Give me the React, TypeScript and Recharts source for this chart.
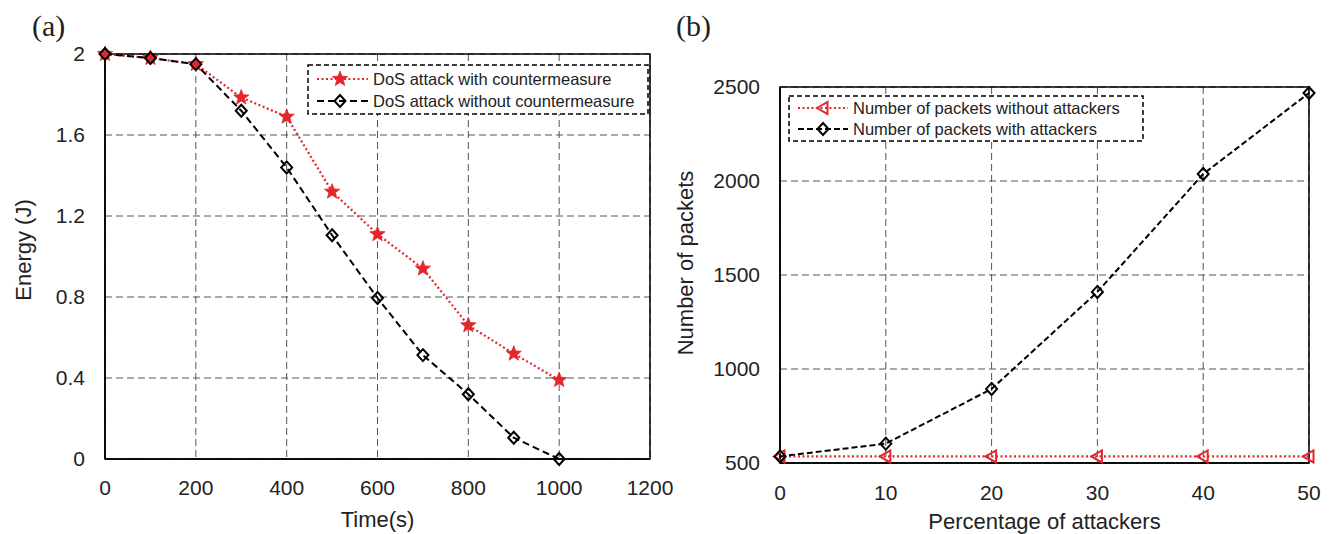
import React from 'react';
import { LineChart, Line, XAxis, YAxis, CartesianGrid, ReferenceArea, Legend } from 'recharts';

// ---------- Chart (a) data ----------
const timeSeconds = [0, 100, 200, 300, 400, 500, 600, 700, 800, 900, 1000];
const energyWithCountermeasure = [2.0, 1.98, 1.95, 1.785, 1.69, 1.32, 1.11, 0.94, 0.66, 0.52, 0.39];
const energyWithoutCountermeasure = [2.0, 1.98, 1.95, 1.72, 1.44, 1.105, 0.795, 0.513, 0.32, 0.105, 0.0];
const timeTicks = [0, 200, 400, 600, 800, 1000, 1200];
const energyTicks = [0, 0.4, 0.8, 1.2, 1.6, 2];
const seriesA1 = 'DoS attack with countermeasure';
const seriesA2 = 'DoS attack without countermeasure';

// ---------- Chart (b) data ----------
const attackerPercent = [0, 10, 20, 30, 40, 50];
const packetsWithoutAttackers = [535, 535, 535, 535, 535, 535];
const packetsWithAttackers = [535, 603, 894, 1410, 2037, 2468];
const percentTicks = [0, 10, 20, 30, 40, 50];
const packetTicks = [500, 1000, 1500, 2000, 2500];
const seriesB1 = 'Number of packets without attackers';
const seriesB2 = 'Number of packets with attackers';

const dataA = timeSeconds.map((t, i) => ({
  t,
  withC: energyWithCountermeasure[i],
  withoutC: energyWithoutCountermeasure[i],
}));
const dataB = attackerPercent.map((p, i) => ({
  p,
  without: packetsWithoutAttackers[i],
  withA: packetsWithAttackers[i],
}));

const RED = '#e3262b';
const TXT = '#222';
const GRID = '#555';

const starPoints = (cx: number, cy: number, ro: number, ri: number) => {
  const pts: string[] = [];
  for (let i = 0; i < 10; i++) {
    const r = i % 2 === 0 ? ro : ri;
    const a = -Math.PI / 2 + (i * Math.PI) / 5;
    pts.push(`${cx + r * Math.cos(a)},${cy + r * Math.sin(a)}`);
  }
  return pts.join(' ');
};

const StarMark = ({ cx, cy }: { cx: number; cy: number }) => (
  <polygon points={starPoints(cx, cy, 8, 3.4)} fill={RED} stroke={RED} strokeWidth={0.8} />
);
const DiamondMark = ({ cx, cy }: { cx: number; cy: number }) => (
  <polygon
    points={`${cx},${cy - 6} ${cx + 5.5},${cy} ${cx},${cy + 6} ${cx - 5.5},${cy}`}
    fill="none"
    stroke="#000"
    strokeWidth={2}
  />
);
const TriangleMark = ({ cx, cy }: { cx: number; cy: number }) => (
  <polygon
    points={`${cx - 6},${cy} ${cx + 4.5},${cy - 6} ${cx + 4.5},${cy + 6}`}
    fill="none"
    stroke={RED}
    strokeWidth={2}
  />
);

const renderStar = (props: any) =>
  props.cx == null ? null : <StarMark key={`s-${props.index}`} cx={props.cx} cy={props.cy} />;
const renderDiamond = (props: any) =>
  props.cx == null ? null : <DiamondMark key={`d-${props.index}`} cx={props.cx} cy={props.cy} />;
const renderTriangle = (props: any) =>
  props.cx == null ? null : <TriangleMark key={`t-${props.index}`} cx={props.cx} cy={props.cy} />;

type Row = { name: string; kind: 'star' | 'diamond' | 'triangle'; color: string; dash: string };

const LegendBox = ({
  width,
  height,
  rows,
  rowY,
  lineX1,
  lineX2,
  markX,
  textX,
}: {
  width: number;
  height: number;
  rows: Row[];
  rowY: number[];
  lineX1: number;
  lineX2: number;
  markX: number;
  textX: number;
}) => (
  <svg width={width} height={height} style={{ display: 'block' }}>
    <rect
      x={1}
      y={1}
      width={width - 2}
      height={height - 2}
      fill="#fff"
      stroke="#000"
      strokeWidth={1.5}
      strokeDasharray="5 3"
    />
    {rows.map((r, i) => (
      <g key={r.name}>
        <line
          x1={lineX1}
          x2={lineX2}
          y1={rowY[i]}
          y2={rowY[i]}
          stroke={r.color}
          strokeWidth={2}
          strokeDasharray={r.dash}
        />
        {r.kind === 'star' && <StarMark cx={markX} cy={rowY[i]} />}
        {r.kind === 'diamond' && <DiamondMark cx={markX} cy={rowY[i]} />}
        {r.kind === 'triangle' && <TriangleMark cx={markX} cy={rowY[i]} />}
        <text x={textX} y={rowY[i]} dominantBaseline="central" fontSize={16.5} fill={TXT}>
          {r.name}
        </text>
      </g>
    ))}
  </svg>
);

const tickStyle = { fontSize: 21, fill: TXT };

export default function App() {
  return (
    <div
      style={{
        position: 'absolute',
        left: 0,
        top: 0,
        width: 1332,
        height: 534,
        background: '#fff',
        fontFamily: '"Liberation Sans", Arial, sans-serif',
      }}
    >
      <div
        style={{
          position: 'absolute',
          left: 32,
          top: 11,
          fontSize: 30,
          lineHeight: '30px',
          fontFamily: '"Liberation Serif", "Times New Roman", serif',
          color: TXT,
        }}
      >
        (a)
      </div>
      <div
        style={{
          position: 'absolute',
          left: 676,
          top: 11,
          fontSize: 30,
          lineHeight: '30px',
          fontFamily: '"Liberation Serif", "Times New Roman", serif',
          color: TXT,
        }}
      >
        (b)
      </div>

      {/* Chart (a) */}
      <div style={{ position: 'absolute', left: 0, top: 0 }}>
        <LineChart width={690} height={534} data={dataA} margin={{ top: 54, right: 40, left: 0, bottom: 0 }}>
          <CartesianGrid stroke={GRID} strokeDasharray="7 4" strokeWidth={1} fill="none" />
          <XAxis
            dataKey="t"
            type="number"
            domain={[0, 1200]}
            ticks={timeTicks}
            interval={0}
            height={75}
            tickSize={0}
            tickMargin={21}
            tick={tickStyle}
            axisLine={{ stroke: '#000', strokeWidth: 1.5 }}
            tickLine={false}
            label={{ value: 'Time(s)', position: 'insideBottom', offset: 7, fontSize: 22, fill: TXT }}
          />
          <YAxis
            type="number"
            domain={[0, 2]}
            ticks={energyTicks}
            interval={0}
            width={105}
            tickSize={0}
            tickMargin={20}
            tick={tickStyle}
            axisLine={{ stroke: '#000', strokeWidth: 1.5 }}
            tickLine={false}
            label={{
              content: () => (
                <text
                  x={23}
                  y={250}
                  transform="rotate(-90 23 250)"
                  textAnchor="middle"
                  dominantBaseline="central"
                  fontSize={22}
                  fill={TXT}
                >
                  Energy (J)
                </text>
              ),
            }}
          />
          <ReferenceArea x1={0} x2={1200} y1={0} y2={2} fill="none" fillOpacity={0} stroke="#000" strokeWidth={1.5} />
          <Line
            dataKey="withC"
            name={seriesA1}
            type="linear"
            stroke={RED}
            strokeWidth={2.2}
            strokeDasharray="2 2.5"
            dot={renderStar}
            activeDot={false}
            isAnimationActive={false}
          />
          <Line
            dataKey="withoutC"
            name={seriesA2}
            type="linear"
            stroke="#000"
            strokeWidth={2}
            strokeDasharray="7 4"
            dot={renderDiamond}
            activeDot={false}
            isAnimationActive={false}
          />
          <Legend
            layout="horizontal"
            verticalAlign="middle"
            align="center"
            wrapperStyle={{ left: 307, top: 64, width: 342, height: 51 }}
            content={() => (
              <LegendBox
                width={342}
                height={51}
                rows={[
                  { name: seriesA1, kind: 'star', color: RED, dash: '2 2.5' },
                  { name: seriesA2, kind: 'diamond', color: '#000', dash: '7 4' },
                ]}
                rowY={[15, 37]}
                lineX1={10}
                lineX2={61}
                markX={33}
                textX={66}
              />
            )}
          />
        </LineChart>
      </div>

      {/* Chart (b) */}
      <div style={{ position: 'absolute', left: 660, top: 0 }}>
        <LineChart width={672} height={534} data={dataB} margin={{ top: 87, right: 23, left: 0, bottom: 0 }}>
          <CartesianGrid stroke={GRID} strokeDasharray="7 4" strokeWidth={1} fill="none" />
          <XAxis
            dataKey="p"
            type="number"
            domain={[0, 50]}
            ticks={percentTicks}
            interval={0}
            height={71}
            tickSize={0}
            tickMargin={22}
            tick={tickStyle}
            axisLine={{ stroke: '#000', strokeWidth: 1.5 }}
            tickLine={false}
            label={{ value: 'Percentage of attackers', position: 'insideBottom', offset: 5, fontSize: 22, fill: TXT }}
          />
          <YAxis
            type="number"
            domain={[500, 2500]}
            ticks={packetTicks}
            interval={0}
            width={120}
            tickSize={0}
            tickMargin={20}
            tick={tickStyle}
            axisLine={{ stroke: '#000', strokeWidth: 1.5 }}
            tickLine={false}
            label={{
              content: () => (
                <text
                  x={25}
                  y={263}
                  transform="rotate(-90 25 263)"
                  textAnchor="middle"
                  dominantBaseline="central"
                  fontSize={22}
                  fill={TXT}
                >
                  Number of packets
                </text>
              ),
            }}
          />
          <ReferenceArea x1={0} x2={50} y1={500} y2={2500} fill="none" fillOpacity={0} stroke="#000" strokeWidth={1.5} />
          <Line
            dataKey="without"
            name={seriesB1}
            type="linear"
            stroke={RED}
            strokeWidth={2.2}
            strokeDasharray="2 2.5"
            dot={renderTriangle}
            activeDot={false}
            isAnimationActive={false}
          />
          <Line
            dataKey="withA"
            name={seriesB2}
            type="linear"
            stroke="#000"
            strokeWidth={2}
            strokeDasharray="6 3"
            dot={renderDiamond}
            activeDot={false}
            isAnimationActive={false}
          />
          <Legend
            layout="horizontal"
            verticalAlign="middle"
            align="center"
            wrapperStyle={{ left: 128, top: 95, width: 356, height: 47 }}
            content={() => (
              <LegendBox
                width={356}
                height={47}
                rows={[
                  { name: seriesB1, kind: 'triangle', color: RED, dash: '2 2.5' },
                  { name: seriesB2, kind: 'diamond', color: '#000', dash: '6 3' },
                ]}
                rowY={[13, 34]}
                lineX1={10}
                lineX2={60}
                markX={35}
                textX={65}
              />
            )}
          />
        </LineChart>
      </div>
    </div>
  );
}
